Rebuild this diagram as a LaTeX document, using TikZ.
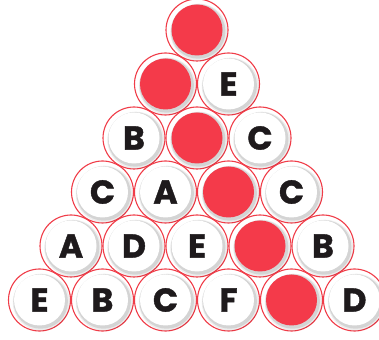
\documentclass[tikz,border=0pt]{standalone}
\usepackage{fontspec}
\newfontfamily\letterfont{Poppins}[BoldFeatures={FakeBold=1.2}]
\definecolor{ballred}{RGB}{244,58,74}
\definecolor{ringred}{RGB}{240,60,72}
\definecolor{ink}{RGB}{30,26,28}
\tikzset{
  ringfill/.style={circle,fill=white,minimum size=62pt,inner sep=0pt},
  ringline/.style={circle,draw=ringred,line width=1.1pt,minimum size=62pt,inner sep=0pt},
  shadowA/.style={circle,fill=black,fill opacity=0.07,minimum size=57pt,inner sep=0pt},
  shadowB/.style={circle,fill=black,fill opacity=0.10,minimum size=54.5pt,inner sep=0pt},
  diskwhite/.style={circle,fill=white,minimum size=51pt,inner sep=0pt,text=ink,font=\letterfont\bfseries\fontsize{33}{33}\selectfont},
  diskred/.style={circle,fill=ballred,minimum size=51pt,inner sep=0pt},
}
\begin{document}
\begin{tikzpicture}[x=1pt,y=1pt]
\useasboundingbox (0,0) rectangle (379,339);
\foreach \r in {0,...,5}{
  \foreach \i in {0,...,\r}{
    \coordinate (p-\r-\i) at ({197-31.5*\r+63*\i},{339-30-54*\r});
  }
}
\foreach \r in {0,...,5}{\foreach \i in {0,...,\r}{
  \node[ringfill] (f-\r-\i) at (p-\r-\i) {};
}}
\foreach \r in {0,...,5}{\foreach \i in {0,...,\r}{
  \node[ringline] (o-\r-\i) at (p-\r-\i) {};
}}
\foreach \r in {0,...,5}{\foreach \i in {0,...,\r}{
  \node[shadowA] (sa-\r-\i) at ([shift={(1.8,-2.2)}]p-\r-\i) {};
  \node[shadowB] (sb-\r-\i) at ([shift={(1.2,-1.5)}]p-\r-\i) {};
}}
% disks
\node[diskred] (d-0-0) at (p-0-0) {};
\node[diskred] (d-1-0) at (p-1-0) {};
\node[diskwhite] (d-1-1) at (p-1-1) {E};
\node[diskwhite] (d-2-0) at (p-2-0) {B};
\node[diskred] (d-2-1) at (p-2-1) {};
\node[diskwhite] (d-2-2) at (p-2-2) {C};
\node[diskwhite] (d-3-0) at (p-3-0) {C};
\node[diskwhite] (d-3-1) at (p-3-1) {A};
\node[diskred] (d-3-2) at (p-3-2) {};
\node[diskwhite] (d-3-3) at (p-3-3) {C};
\node[diskwhite] (d-4-0) at (p-4-0) {A};
\node[diskwhite] (d-4-1) at (p-4-1) {D};
\node[diskwhite] (d-4-2) at (p-4-2) {E};
\node[diskred] (d-4-3) at (p-4-3) {};
\node[diskwhite] (d-4-4) at (p-4-4) {B};
\node[diskwhite] (d-5-0) at (p-5-0) {E};
\node[diskwhite] (d-5-1) at (p-5-1) {B};
\node[diskwhite] (d-5-2) at (p-5-2) {C};
\node[diskwhite] (d-5-3) at (p-5-3) {F};
\node[diskred] (d-5-4) at (p-5-4) {};
\node[diskwhite] (d-5-5) at (p-5-5) {D};
\end{tikzpicture}
\end{document}
